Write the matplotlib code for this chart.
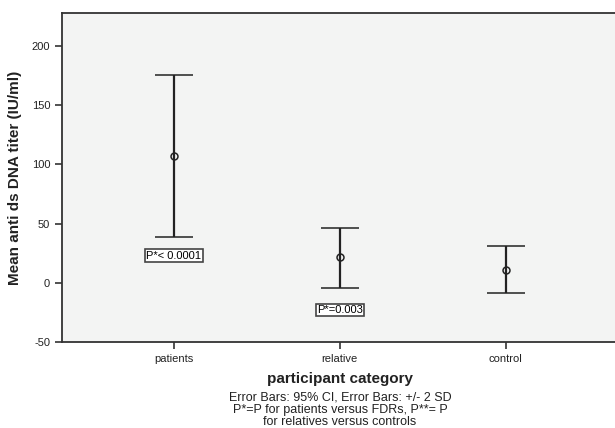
import numpy as np
import matplotlib
matplotlib.use("Agg")
import matplotlib.pyplot as plt

plt.rcParams['font.family'] = ['Liberation Sans', 'DejaVu Sans']
plt.rcParams['axes.unicode_minus'] = False

# data
categories = ['patients', 'relative', 'control']
means = [106.8, 21.4, 11.0]
upper = [175.5, 46.5, 31.3]
lower = [39.0, -4.0, -8.3]
p_labels = ['P*< 0.0001', 'P*=0.003']
p_label_y = [23.0, -23.0]

x = np.arange(len(categories))
means = np.array(means)
yerr = [means - np.array(lower), np.array(upper) - means]

fig = plt.figure(figsize=(6.15, 4.28), dpi=100)
ax = fig.add_axes([0.1008, 0.201, 0.905, 0.7686])
ax.set_facecolor('#f3f4f3')

ax.errorbar(x, means, yerr=yerr, fmt='o', color='#222222', ecolor='#222222',
            elinewidth=1.6, capsize=13.7, capthick=1.6,
            markersize=5, markerfacecolor='none', markeredgewidth=1.1)

for i, (lab, yy) in enumerate(zip(p_labels, p_label_y)):
    ax.text(x[i], yy, lab, ha='center', va='center', fontsize=8,
            bbox=dict(boxstyle='square,pad=0.1', facecolor='white',
                      edgecolor='#444444', linewidth=1.2))

ax.set_xlim(-0.675, 2.68)
ax.set_ylim(-50, 228)
ax.set_yticks([-50, 0, 50, 100, 150, 200])
ax.set_xticks(x)
ax.set_xticklabels(categories)
ax.tick_params(axis='both', direction='out', length=5, width=1.2,
               color='#333333', labelsize=8, labelcolor='#222222')

for s in ax.spines.values():
    s.set_color('#333333')
    s.set_linewidth(1.3)

ax.set_ylabel('Mean anti ds DNA titer (IU/ml)', fontsize=11, fontweight='bold',
              color='#222222', labelpad=7)
ax.set_xlabel('participant category', fontsize=11, fontweight='bold',
              color='#222222', labelpad=6)

fig.text(340 / 615, 1 - 397 / 428, 'Error Bars: 95% CI, Error Bars: +/- 2 SD',
         ha='center', va='center', fontsize=9, color='#222222')
fig.text(340 / 615, 1 - 410 / 428, 'P*=P for patients versus FDRs, P**= P',
         ha='center', va='center', fontsize=9, color='#222222')
fig.text(340 / 615, 1 - 422 / 428, 'for relatives versus controls',
         ha='center', va='center', fontsize=9, color='#222222')

fig.savefig('out.png', dpi=100)
